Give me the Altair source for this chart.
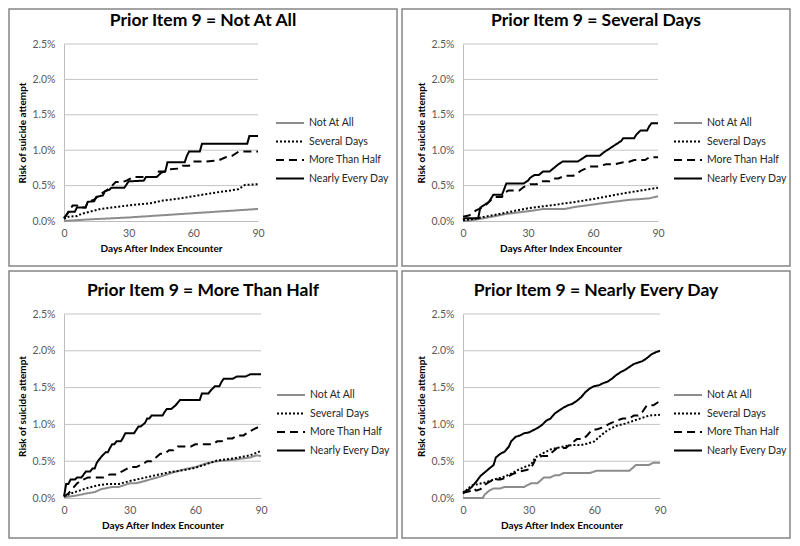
import altair as alt
import pandas as pd

FONT = "Lato"
SERIES = ["Not At All", "Several Days", "More Than Half", "Nearly Every Day"]
PANEL_TITLES = [
    "Prior Item 9 = Not At All",
    "Prior Item 9 = Several Days",
    "Prior Item 9 = More Than Half",
    "Prior Item 9 = Nearly Every Day",
]
X_TICKS = [0, 30, 60, 90]
Y_TICKS = [0.0, 0.5, 1.0, 1.5, 2.0, 2.5]
GRID_VALUES = [0.5, 1.0, 1.5, 2.0, 2.5]

# ---------- Panel 1: Prior Item 9 = Not At All ----------
p1_naa_day = [0, 10, 20, 30, 40, 50, 60, 70, 80, 90]
p1_naa_val = [0.0, 0.02, 0.035, 0.05, 0.07, 0.09, 0.11, 0.13, 0.15, 0.17]
p1_sd_day = [0, 2, 6, 8, 12, 17, 22, 27, 33, 40, 46, 52, 58, 64, 70, 77, 81, 84, 90]
p1_sd_val = [0.03, 0.06, 0.07, 0.10, 0.13, 0.17, 0.19, 0.21, 0.23, 0.25, 0.29, 0.31, 0.34, 0.37, 0.40, 0.43, 0.45, 0.51, 0.52]
p1_mth_day = [0, 2, 4, 6, 7, 10, 11, 14, 16, 19, 21, 24, 27, 29, 32, 34, 43, 44, 47, 49, 53, 55, 58, 60, 66, 72, 75, 78, 81, 90]
p1_mth_val = [0.04, 0.12, 0.22, 0.22, 0.19, 0.19, 0.27, 0.30, 0.36, 0.42, 0.46, 0.55, 0.55, 0.57, 0.62, 0.62, 0.62, 0.70, 0.70, 0.73, 0.74, 0.78, 0.78, 0.84, 0.84, 0.86, 0.90, 0.92, 0.98, 0.98]
p1_ned_day = [0, 1, 2, 5, 6, 10, 11, 14, 15, 18, 19, 21, 22, 28, 30, 37, 38, 43, 45, 47, 48, 56, 57, 58, 63, 64, 85, 86, 90]
p1_ned_val = [0.04, 0.08, 0.13, 0.13, 0.19, 0.19, 0.27, 0.28, 0.34, 0.36, 0.42, 0.44, 0.47, 0.47, 0.56, 0.57, 0.62, 0.62, 0.68, 0.70, 0.83, 0.83, 0.92, 0.98, 0.98, 1.09, 1.09, 1.20, 1.20]

# ---------- Panel 2: Prior Item 9 = Several Days ----------
p2_naa_day = [0, 2, 8, 15, 20, 28, 33, 37, 47, 52, 57, 64, 72, 77, 82, 86, 90]
p2_naa_val = [0.0, 0.0, 0.03, 0.07, 0.10, 0.13, 0.15, 0.17, 0.17, 0.20, 0.22, 0.25, 0.28, 0.30, 0.31, 0.32, 0.35]
p2_sd_day = [0, 5, 10, 17, 25, 30, 38, 45, 52, 60, 67, 74, 82, 90]
p2_sd_val = [0.01, 0.03, 0.06, 0.10, 0.15, 0.18, 0.21, 0.24, 0.27, 0.31, 0.35, 0.39, 0.43, 0.47]
p2_mth_day = [0, 3, 6, 9, 11, 13, 15, 18, 19, 21, 26, 28, 31, 34, 36, 40, 42, 44, 47, 51, 53, 55, 59, 62, 66, 70, 74, 76, 79, 84, 86, 90]
p2_mth_val = [0.06, 0.08, 0.15, 0.19, 0.24, 0.30, 0.34, 0.34, 0.40, 0.43, 0.43, 0.48, 0.52, 0.52, 0.56, 0.56, 0.60, 0.60, 0.64, 0.64, 0.68, 0.72, 0.77, 0.77, 0.80, 0.80, 0.83, 0.83, 0.86, 0.86, 0.90, 0.90]
p2_ned_day = [0, 1, 7, 8, 10, 12, 14, 18, 19, 20, 28, 30, 31, 33, 35, 37, 40, 42, 44, 46, 53, 55, 57, 63, 65, 67, 69, 71, 73, 74, 79, 80, 82, 85, 86, 87, 90]
p2_ned_val = [0.02, 0.04, 0.04, 0.19, 0.23, 0.27, 0.37, 0.37, 0.45, 0.53, 0.53, 0.57, 0.61, 0.65, 0.65, 0.70, 0.70, 0.75, 0.80, 0.84, 0.84, 0.88, 0.92, 0.92, 0.97, 1.01, 1.05, 1.09, 1.13, 1.17, 1.17, 1.22, 1.28, 1.28, 1.34, 1.38, 1.38]

# ---------- Panel 3: Prior Item 9 = More Than Half ----------
p3_naa_day = [0, 5, 10, 14, 17, 22, 25, 30, 33, 38, 45, 50, 55, 60, 65, 70, 75, 80, 85, 88, 90]
p3_naa_val = [0.01, 0.03, 0.06, 0.08, 0.12, 0.15, 0.15, 0.20, 0.20, 0.24, 0.30, 0.35, 0.39, 0.42, 0.47, 0.50, 0.51, 0.53, 0.55, 0.58, 0.57]
p3_sd_day = [0, 3, 7, 10, 15, 20, 25, 30, 36, 42, 48, 55, 60, 66, 70, 78, 85, 90]
p3_sd_val = [0.02, 0.06, 0.10, 0.13, 0.17, 0.19, 0.19, 0.23, 0.27, 0.31, 0.35, 0.38, 0.41, 0.47, 0.51, 0.54, 0.58, 0.64]
p3_mth_day = [0, 2, 4, 6, 8, 11, 18, 21, 24, 27, 30, 33, 36, 38, 40, 42, 44, 46, 48, 50, 52, 58, 60, 68, 70, 72, 74, 77, 79, 82, 84, 87, 90]
p3_mth_val = [0.02, 0.06, 0.13, 0.20, 0.24, 0.28, 0.28, 0.32, 0.32, 0.37, 0.42, 0.42, 0.46, 0.50, 0.50, 0.55, 0.60, 0.60, 0.65, 0.65, 0.70, 0.70, 0.73, 0.73, 0.77, 0.77, 0.81, 0.81, 0.85, 0.85, 0.89, 0.94, 0.98]
p3_ned_day = [0, 1, 2, 3, 5, 6, 8, 10, 12, 13, 14, 15, 17, 19, 20, 21, 22, 23, 24, 26, 27, 28, 32, 34, 35, 37, 38, 39, 40, 45, 46, 47, 49, 51, 53, 62, 63, 66, 67, 69, 71, 72, 73, 77, 79, 83, 85, 90]
p3_ned_val = [0.02, 0.19, 0.19, 0.25, 0.25, 0.28, 0.28, 0.36, 0.36, 0.40, 0.40, 0.48, 0.56, 0.62, 0.62, 0.68, 0.73, 0.73, 0.77, 0.77, 0.82, 0.88, 0.88, 0.97, 0.97, 1.02, 1.08, 1.08, 1.12, 1.12, 1.17, 1.21, 1.21, 1.26, 1.33, 1.33, 1.42, 1.42, 1.46, 1.52, 1.52, 1.58, 1.62, 1.62, 1.65, 1.65, 1.68, 1.68]

# ---------- Panel 4: Prior Item 9 = Nearly Every Day ----------
p4_naa_day = [0, 9, 10, 12, 14, 17, 19, 28, 31, 34, 37, 40, 42, 44, 46, 58, 61, 76, 78, 79, 85, 87, 90]
p4_naa_val = [0.0, 0.0, 0.05, 0.10, 0.13, 0.13, 0.15, 0.15, 0.20, 0.20, 0.28, 0.28, 0.31, 0.31, 0.34, 0.34, 0.37, 0.37, 0.42, 0.45, 0.45, 0.48, 0.48]
p4_sd_day = [0, 2, 4, 7, 10, 14, 18, 22, 25, 28, 31, 33, 36, 40, 43, 46, 50, 54, 57, 60, 63, 66, 70, 74, 78, 82, 85, 90]
p4_sd_val = [0.06, 0.12, 0.17, 0.19, 0.21, 0.25, 0.28, 0.33, 0.38, 0.42, 0.45, 0.55, 0.60, 0.66, 0.68, 0.70, 0.72, 0.72, 0.74, 0.77, 0.85, 0.92, 0.98, 1.01, 1.05, 1.09, 1.12, 1.13]
p4_mth_day = [0, 3, 5, 6, 8, 10, 12, 14, 17, 20, 23, 26, 29, 31, 33, 36, 39, 41, 43, 47, 49, 52, 55, 57, 59, 61, 64, 67, 70, 73, 76, 78, 80, 82, 84, 87, 90]
p4_mth_val = [0.07, 0.09, 0.13, 0.10, 0.12, 0.18, 0.22, 0.25, 0.25, 0.28, 0.33, 0.36, 0.38, 0.40, 0.52, 0.57, 0.57, 0.63, 0.68, 0.68, 0.73, 0.80, 0.80, 0.86, 0.93, 0.93, 0.96, 1.01, 1.05, 1.08, 1.08, 1.12, 1.12, 1.17, 1.26, 1.26, 1.32]
p4_ned_day = [0, 2, 4, 6, 8, 10, 12, 14, 15, 17, 19, 21, 22, 24, 26, 28, 30, 32, 34, 36, 38, 40, 42, 44, 46, 48, 50, 52, 54, 56, 58, 60, 62, 64, 66, 68, 70, 72, 74, 76, 78, 80, 82, 84, 86, 88, 90]
p4_ned_val = [0.08, 0.10, 0.15, 0.22, 0.30, 0.35, 0.40, 0.45, 0.55, 0.60, 0.63, 0.70, 0.77, 0.83, 0.85, 0.88, 0.89, 0.92, 0.95, 0.99, 1.05, 1.08, 1.15, 1.19, 1.23, 1.26, 1.28, 1.32, 1.37, 1.44, 1.49, 1.52, 1.53, 1.56, 1.58, 1.62, 1.67, 1.71, 1.74, 1.78, 1.82, 1.84, 1.86, 1.90, 1.95, 1.98, 2.00]

PANELS = [
    [(p1_naa_day, p1_naa_val), (p1_sd_day, p1_sd_val), (p1_mth_day, p1_mth_val), (p1_ned_day, p1_ned_val)],
    [(p2_naa_day, p2_naa_val), (p2_sd_day, p2_sd_val), (p2_mth_day, p2_mth_val), (p2_ned_day, p2_ned_val)],
    [(p3_naa_day, p3_naa_val), (p3_sd_day, p3_sd_val), (p3_mth_day, p3_mth_val), (p3_ned_day, p3_ned_val)],
    [(p4_naa_day, p4_naa_val), (p4_sd_day, p4_sd_val), (p4_mth_day, p4_mth_val), (p4_ned_day, p4_ned_val)],
]

# layout (pixels inside each framed panel)
W = 388
H_TOP, H_BOT = 257, 267
LAYOUT = [
    dict(h=H_TOP, x0=55, x1=249, ytop=35, ybot=212, ty=17, lx=266, ly=108),
    dict(h=H_TOP, x0=61, x1=256, ytop=35, ybot=212, ty=17, lx=271, ly=108),
    dict(h=H_BOT, x0=55, x1=252, ytop=43, ybot=227, ty=25, lx=267, ly=118),
    dict(h=H_BOT, x0=61, x1=258, ytop=43, ybot=227, ty=25, lx=271, ly=118),
]

COLORS = ["#8c8c8c", "#000000", "#000000", "#000000"]
DASHES = [[1, 0], [2, 2], [8, 5], [1, 0]]
WIDTHS = [2.0, 2.0, 2.4, 2.4]


def make_panel(i):
    lay = LAYOUT[i]
    rows = []
    for s, (days, vals) in zip(SERIES, PANELS[i]):
        for d, v in zip(days, vals):
            rows.append({"day": d, "risk": v, "series": s})
    df = pd.DataFrame(rows)

    xscale = alt.Scale(domain=[0, 90], range=[lay["x0"], lay["x1"]], nice=False, zero=False)
    yscale = alt.Scale(domain=[0, 2.5], range=[lay["ybot"], lay["ytop"]], nice=False)

    xaxis = alt.Axis(
        orient="bottom", offset=-(lay["h"] - lay["ybot"]), values=X_TICKS, grid=False,
        ticks=False, domain=True, domainColor="#bdbdbd", domainWidth=1,
        labelFont=FONT, labelFontSize=10.5, labelColor="#595959", labelPadding=7,
        labelFlush=False, title="Days After Index Encounter", titleFont=FONT,
        titleFontSize=10, titleFontWeight="bold", titleColor="#000000", titlePadding=5,
    )
    yaxis = alt.Axis(
        orient="left", offset=-lay["x0"], values=Y_TICKS, grid=False, ticks=False,
        domain=True, domainColor="#bdbdbd", domainWidth=1,
        labelExpr="format(datum.value, '.1f') + '%'", labelFont=FONT, labelFontSize=10.5,
        labelColor="#595959", labelPadding=9, labelFlush=False,
        title="Risk of suicide attempt", titleFont=FONT, titleFontSize=10,
        titleFontWeight="bold", titleColor="#000000", titlePadding=4,
    )
    legend = alt.Legend(
        title=None, orient="none", legendX=lay["lx"], legendY=lay["ly"], padding=0,
        symbolType="stroke", symbolSize=784, clipHeight=12, labelFont=FONT,
        labelFontSize=10.5, labelColor="#262626", labelOffset=4, rowPadding=6.5,
    )

    grid = alt.Chart(pd.DataFrame({"risk": GRID_VALUES})).mark_rule(
        color="#c4c4c4", strokeWidth=1
    ).encode(
        y=alt.Y("risk:Q", scale=yscale, axis=yaxis),
        x=alt.datum(0),
        x2=alt.datum(90),
    )

    lines = alt.Chart(df).mark_line(strokeCap="butt", strokeJoin="miter").encode(
        x=alt.X("day:Q", scale=xscale, axis=xaxis),
        y=alt.Y("risk:Q", scale=yscale, axis=yaxis),
        color=alt.Color("series:N", scale=alt.Scale(domain=SERIES, range=COLORS), legend=legend),
        strokeDash=alt.StrokeDash("series:N", scale=alt.Scale(domain=SERIES, range=DASHES), legend=legend),
        strokeWidth=alt.StrokeWidth("series:N", scale=alt.Scale(domain=SERIES, range=WIDTHS), legend=legend),
    )

    title = alt.Chart(pd.DataFrame({"t": [PANEL_TITLES[i]]})).mark_text(
        font=FONT, fontSize=17.5, fontWeight="bold", color="#000000",
        align="center", baseline="alphabetic",
    ).encode(
        x=alt.value(W / 2), y=alt.value(lay["ty"]), text="t:N"
    )

    return alt.layer(grid, lines, title).properties(width=W, height=lay["h"])


def indep(c):
    return c.resolve_scale(
        x="independent", y="independent", color="independent",
        strokeDash="independent", strokeWidth="independent",
    ).resolve_legend(
        color="independent", strokeDash="independent", strokeWidth="independent"
    )


top = indep(alt.hconcat(make_panel(0), make_panel(1), spacing=3))
bottom = indep(alt.hconcat(make_panel(2), make_panel(3), spacing=3))
chart = indep(alt.vconcat(top, bottom, spacing=3)).properties(padding=0).configure_view(
    stroke="#858585", strokeWidth=1.5, fill="white"
)

chart.save("out.html", embed_options={"renderer": "svg", "actions": False})
